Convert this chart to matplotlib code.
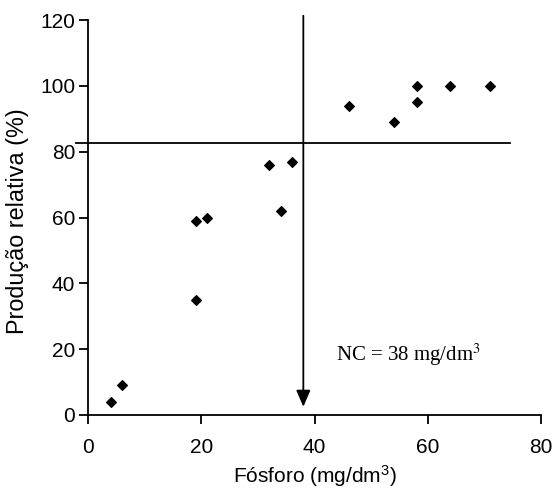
import matplotlib
matplotlib.use('Agg')
import matplotlib.pyplot as plt

# phosphorus (mg/dm3) vs relative yield (%)
fosforo = [4, 6, 19, 19, 21, 32, 34, 36, 46, 54, 58, 58, 64, 71]
producao = [4, 9, 35, 59, 60, 76, 62, 77, 94, 89, 100, 95, 100, 100]

nc = 38          # critical level
nivel_y = 82.5   # horizontal reference line
x_ticks = [0, 20, 40, 60, 80]
y_ticks = [0, 20, 40, 60, 80, 100, 120]

plt.rcParams['font.family'] = ['Liberation Sans', 'DejaVu Sans']
plt.rcParams['mathtext.fontset'] = 'custom'
plt.rcParams['mathtext.rm'] = 'Liberation Sans'
plt.rcParams['mathtext.it'] = 'Liberation Sans:italic'

fig = plt.figure(figsize=(5.55, 4.88), dpi=100)
ax = fig.add_axes([0.1591, 0.1496, 0.8157, 0.8094])

ax.plot(fosforo, producao, linestyle='none', marker='D', ms=5.3,
        mfc='black', mec='black', mew=0.8)

# reference lines
ax.plot([-2.2, 74.6], [nivel_y, nivel_y], color='black', lw=1.3, clip_on=False)
ax.annotate('', xy=(nc, 2.5), xytext=(nc, 121.3),
            arrowprops=dict(arrowstyle='-|>,head_length=1.0,head_width=0.43',
                            mutation_scale=10, color='black', lw=1.3,
                            shrinkA=0, shrinkB=0),
            annotation_clip=False)

ax.text(43.7, 16.5, 'NC = 38 mg/dm$^3$', fontsize=15, family='Liberation Serif',
        math_fontfamily='stix', va='baseline', ha='left')

ax.set_xlim(0, 80)
ax.set_ylim(0, 120)
ax.set_xticks(x_ticks)
ax.set_yticks(y_ticks)

for s in ['top', 'right']:
    ax.spines[s].set_visible(False)
for s in ['left', 'bottom']:
    ax.spines[s].set_linewidth(1.3)

ax.tick_params(axis='both', direction='out', length=6.5, width=1.3, labelsize=15)
ax.tick_params(axis='x', pad=10)
ax.tick_params(axis='y', pad=3)

ax.set_xlabel('Fósforo (mg/dm$^3$)', fontsize=15)
ax.set_ylabel('Produção relativa (%)', fontsize=16.8)
ax.xaxis.set_label_coords(0.5, -0.122)
ax.yaxis.set_label_coords(-0.13, 0.49)

fig.savefig('out.png', dpi=100)
